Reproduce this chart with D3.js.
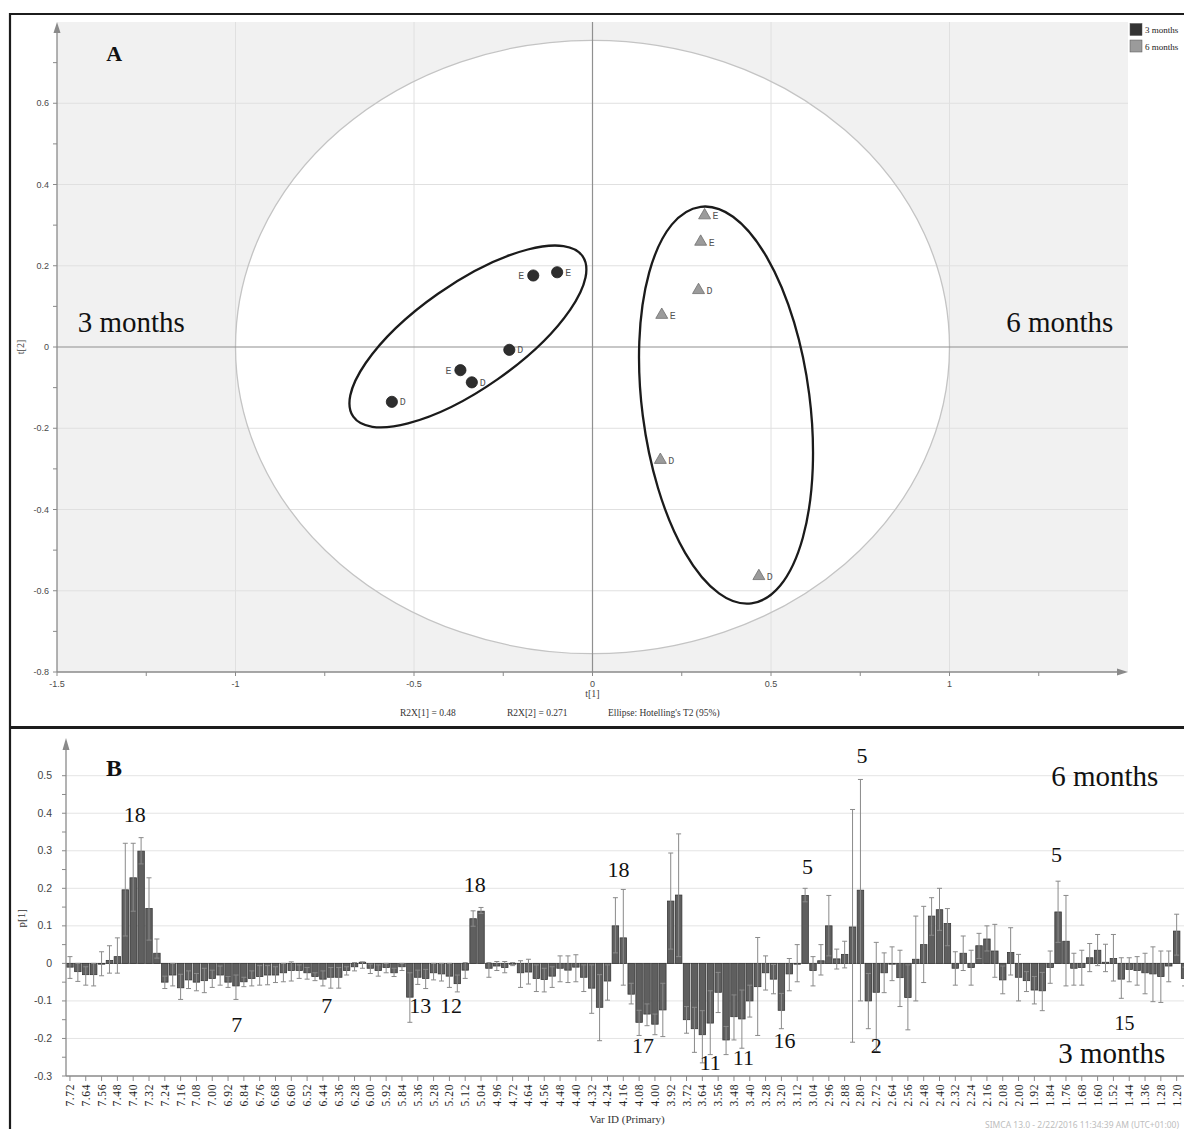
<!DOCTYPE html>
<html>
<head>
<meta charset="utf-8">
<script src="https://cdn.jsdelivr.net/npm/d3@7"></script>
<style>
  html, body { margin: 0; padding: 0; background: #ffffff; overflow: hidden; }
  svg { display: block; }
</style>
</head>
<body>
<svg id="chart" width="1184" height="1129"></svg>
<script>
// ===================== DATA =====================
// Panel A: PCA scores t[1] / t[2]
const groupNames = ["3 months", "6 months"];
const t1_3m  = [-0.099, -0.166, -0.233, -0.370, -0.338, -0.562];
const t2_3m  = [ 0.184,  0.176, -0.007, -0.057, -0.087, -0.135];
const lbl_3m = ["E", "E", "D", "E", "D", "D"];
const t1_6m  = [ 0.314,  0.303,  0.297,  0.194,  0.190,  0.466];
const t2_6m  = [ 0.324,  0.259,  0.140,  0.079, -0.278, -0.564];
const lbl_6m = ["E", "E", "D", "E", "D", "D"];
const hotellingT1 = 1.0;   // semi-axis of Hotelling's T2 (95%) ellipse along t[1]
const hotellingT2 = 0.755; // semi-axis along t[2]
const tickA_x = [-1.5, -1, -0.5, 0, 0.5, 1];
const tickA_y = [-0.8, -0.6, -0.4, -0.2, 0, 0.2, 0.4, 0.6];
const r2xText = ["R2X[1] = 0.48", "R2X[2] = 0.271", "Ellipse: Hotelling's T2 (95%)"];

// Panel B: loadings p[1] per variable (ppm bins) with error bars
const catsB = ["7.72","7.68","7.64","7.60","7.56","7.52","7.48","7.44","7.40","7.36",
 "7.32","7.28","7.24","7.20","7.16","7.12","7.08","7.04","7.00","6.96",
 "6.92","6.88","6.84","6.80","6.76","6.72","6.68","6.64","6.60","6.56",
 "6.52","6.48","6.44","6.40","6.36","6.32","6.28","6.24","6.00","5.96",
 "5.92","5.88","5.84","5.40","5.36","5.32","5.28","5.24","5.20","5.16",
 "5.12","5.08","5.04","5.00","4.96","4.92","4.72","4.68","4.64","4.60",
 "4.56","4.52","4.48","4.44","4.40","4.36","4.32","4.28","4.24","4.20",
 "4.16","4.12","4.08","4.04","4.00","3.96","3.92","3.76","3.72","3.68",
 "3.64","3.60","3.56","3.52","3.48","3.44","3.40","3.32","3.28","3.24",
 "3.20","3.16","3.12","3.08","3.04","3.00","2.96","2.92","2.88","2.84",
 "2.80","2.76","2.72","2.68","2.64","2.60","2.56","2.52","2.48","2.44",
 "2.40","2.36","2.32","2.28","2.24","2.20","2.16","2.12","2.08","2.04",
 "2.00","1.96","1.92","1.88","1.84","1.80","1.76","1.72","1.68","1.64",
 "1.60","1.56","1.52","1.48","1.44","1.40","1.36","1.32","1.28","1.24",
 "1.20","1.16"];
const valsB = [-0.010,-0.022,-0.030,-0.030,-0.002,0.008,0.018,0.196,0.228,0.299,
 0.146,0.027,-0.050,-0.031,-0.065,-0.044,-0.050,-0.046,-0.040,-0.031,
 -0.050,-0.060,-0.049,-0.040,-0.035,-0.031,-0.031,-0.025,-0.019,-0.019,
 -0.025,-0.035,-0.042,-0.037,-0.037,-0.019,-0.009,0.003,-0.013,-0.019,
 -0.011,-0.025,-0.009,-0.090,-0.037,-0.040,-0.025,-0.028,-0.034,-0.054,
 -0.018,0.119,0.139,-0.013,-0.007,-0.011,-0.002,-0.025,-0.023,-0.040,
 -0.043,-0.034,-0.013,-0.018,-0.010,-0.037,-0.066,-0.117,-0.047,0.100,
 0.068,-0.082,-0.157,-0.135,-0.162,-0.124,0.166,0.182,-0.150,-0.174,
 -0.190,-0.159,-0.077,-0.204,-0.142,-0.148,-0.100,-0.062,-0.025,-0.042,
 -0.125,-0.028,0.000,0.181,-0.019,0.007,0.100,0.012,0.024,0.097,
 0.195,-0.100,-0.077,-0.025,0.000,-0.038,-0.091,0.011,0.050,0.126,
 0.143,0.106,-0.013,0.027,-0.011,0.047,0.065,0.033,-0.044,0.029,
 -0.037,-0.046,-0.071,-0.073,-0.011,0.137,0.059,-0.013,-0.011,0.015,
 0.035,0.003,0.013,-0.042,-0.016,-0.019,-0.025,-0.028,-0.035,-0.007,
 0.086,-0.040];
const errLoB = [-0.040,-0.048,-0.058,-0.060,-0.033,-0.026,-0.026,0.073,0.139,0.265,
 0.062,0.014,-0.067,-0.060,-0.096,-0.067,-0.073,-0.078,-0.064,-0.058,
 -0.064,-0.096,-0.062,-0.060,-0.058,-0.057,-0.051,-0.049,-0.047,-0.040,
 -0.042,-0.046,-0.060,-0.066,-0.066,-0.031,-0.020,-0.013,-0.027,-0.034,
 -0.025,-0.035,-0.019,-0.157,-0.056,-0.067,-0.044,-0.047,-0.064,-0.076,
 -0.040,0.099,0.133,-0.037,-0.019,-0.025,-0.006,-0.064,-0.055,-0.075,
 -0.076,-0.064,-0.049,-0.051,-0.049,-0.075,-0.133,-0.206,-0.098,0.028,
 -0.058,-0.108,-0.192,-0.166,-0.190,-0.195,0.038,0.018,-0.186,-0.237,
 -0.265,-0.243,-0.131,-0.243,-0.204,-0.226,-0.143,-0.192,-0.071,-0.081,
 -0.174,-0.073,-0.049,0.164,-0.060,-0.031,0.020,-0.015,-0.012,-0.210,
 -0.100,-0.174,-0.235,-0.078,-0.046,-0.115,-0.177,-0.100,-0.051,0.075,
 0.088,0.047,-0.058,-0.019,-0.058,0.013,0.033,-0.037,-0.081,-0.031,
 -0.100,-0.075,-0.108,-0.126,-0.053,0.056,-0.060,-0.058,-0.058,-0.022,
 -0.006,-0.022,-0.047,-0.093,-0.049,-0.058,-0.081,-0.102,-0.104,-0.049,
 0.022,-0.060];
const errHiB = [0.018,0.000,-0.009,0.000,0.031,0.047,0.068,0.320,0.320,0.335,
 0.228,0.065,-0.034,0.000,-0.029,-0.020,-0.027,-0.013,-0.018,-0.007,
 -0.035,-0.031,-0.037,-0.020,-0.006,-0.006,-0.009,0.000,0.004,-0.004,
 -0.011,-0.025,-0.020,-0.011,-0.011,-0.009,0.002,0.004,-0.002,-0.004,
 0.000,-0.013,0.000,-0.025,-0.018,-0.016,0.000,0.000,0.000,-0.031,
 0.002,0.140,0.149,0.002,0.005,0.005,0.002,0.007,0.011,-0.004,
 -0.013,-0.009,0.020,0.020,0.023,-0.004,-0.004,-0.030,-0.004,0.175,
 0.197,-0.053,-0.125,-0.108,-0.135,-0.053,0.294,0.345,-0.115,-0.117,
 -0.126,-0.073,-0.024,-0.168,-0.084,-0.071,-0.058,0.069,0.020,-0.003,
 -0.080,0.013,0.050,0.200,0.018,0.050,0.181,0.038,0.059,0.410,
 0.490,-0.027,0.056,0.028,0.044,0.035,-0.004,0.126,0.152,0.175,
 0.200,0.146,0.031,0.073,0.035,0.080,0.100,0.104,-0.007,0.095,
 0.024,-0.022,-0.035,-0.024,0.033,0.219,0.181,0.027,0.035,0.053,
 0.077,0.051,0.077,0.015,0.015,0.018,0.027,0.044,0.033,0.033,
 0.131,-0.010];
const tickB_y = [-0.3, -0.2, -0.1, 0, 0.1, 0.2, 0.3, 0.4, 0.5];
const tickB_x = ["7.72","7.64","7.56","7.48","7.40","7.32","7.24","7.16","7.08","7.00",
 "6.92","6.84","6.76","6.68","6.60","6.52","6.44","6.36","6.28","6.00","5.92","5.84",
 "5.36","5.28","5.20","5.12","5.04","4.96","4.72","4.64","4.56","4.48","4.40","4.32",
 "4.24","4.16","4.08","4.00","3.92","3.72","3.64","3.56","3.48","3.40","3.28","3.20",
 "3.12","3.04","2.96","2.88","2.80","2.72","2.64","2.56","2.48","2.40","2.32","2.24",
 "2.16","2.08","2.00","1.92","1.84","1.76","1.68","1.60","1.52","1.44","1.36","1.28","1.20"];
const annotB = ["18","7","7","13","12","18","18","17","11","11","16","5","2","5","5","15"];

// ===================== LAYOUT / STYLE =====================
const svg = d3.select("#chart");
const serif = "'Liberation Serif', 'Times New Roman', serif";
const sans = "'Liberation Sans', Arial, sans-serif";
const axisCol = "#8a8a8a";
const fmt = d => String(d);   // plain hyphen-minus like the original

// ---------- Panel A ----------
const xA = d3.scaleLinear().domain([-1.5, 1.5]).range([57, 1128]);
const yA = d3.scaleLinear().domain([-0.8, 0.8]).range([672, 22]);
const gA = svg.append("g");

gA.append("rect")
  .attr("x", xA(-1.5)).attr("y", yA(0.8))
  .attr("width", xA(1.5) - xA(-1.5)).attr("height", yA(-0.8) - yA(0.8))
  .attr("fill", "#f1f1f1");

gA.append("ellipse")
  .attr("cx", xA(0)).attr("cy", yA(0))
  .attr("rx", xA(hotellingT1) - xA(0)).attr("ry", yA(0) - yA(hotellingT2))
  .attr("fill", "#ffffff");

// grid
const gridAx = [-1, -0.5, 0.5, 1];
const gridAy = [-0.6, -0.4, -0.2, 0.2, 0.4, 0.6];
gA.selectAll(".gx").data(gridAx).join("line")
  .attr("x1", d => xA(d)).attr("x2", d => xA(d))
  .attr("y1", yA(0.8)).attr("y2", yA(-0.8))
  .attr("stroke", "#e0e0e0").attr("stroke-width", 1);
gA.selectAll(".gy").data(gridAy).join("line")
  .attr("x1", xA(-1.5)).attr("x2", xA(1.5))
  .attr("y1", d => yA(d)).attr("y2", d => yA(d))
  .attr("stroke", "#e0e0e0").attr("stroke-width", 1);

// Hotelling outline
gA.append("ellipse")
  .attr("cx", xA(0)).attr("cy", yA(0))
  .attr("rx", xA(hotellingT1) - xA(0)).attr("ry", yA(0) - yA(hotellingT2))
  .attr("fill", "none").attr("stroke", "#c4c4c4").attr("stroke-width", 1.3);

// zero lines
gA.append("line").attr("x1", xA(0)).attr("x2", xA(0)).attr("y1", yA(0.8)).attr("y2", yA(-0.8))
  .attr("stroke", "#909090").attr("stroke-width", 1.2);
gA.append("line").attr("x1", xA(-1.5)).attr("x2", xA(1.5)).attr("y1", yA(0)).attr("y2", yA(0))
  .attr("stroke", "#909090").attr("stroke-width", 1.2);

// axes with arrows
gA.append("line").attr("x1", xA(-1.5)).attr("x2", xA(-1.5)).attr("y1", yA(-0.8)).attr("y2", yA(0.8) + 6)
  .attr("stroke", axisCol).attr("stroke-width", 1.3);
gA.append("path")
  .attr("d", `M${xA(-1.5)},${yA(0.8)} l-3.5,11 l7,0 z`).attr("fill", axisCol);
gA.append("line").attr("x1", xA(-1.5)).attr("x2", xA(1.5) - 6).attr("y1", yA(-0.8)).attr("y2", yA(-0.8))
  .attr("stroke", axisCol).attr("stroke-width", 1.3);
gA.append("path")
  .attr("d", `M${xA(1.5)},${yA(-0.8)} l-11,-3.5 l0,7 z`).attr("fill", axisCol);

// ticks
const minorAy = d3.range(0, 16).map(k => -0.8 + k * 0.1);
gA.selectAll(".tya").data(minorAy).join("line")
  .attr("x1", xA(-1.5) - 4).attr("x2", xA(-1.5))
  .attr("y1", d => yA(d)).attr("y2", d => yA(d))
  .attr("stroke", axisCol);
const minorAx = d3.range(0, 12).map(k => -1.5 + k * 0.25);
gA.selectAll(".txa").data(minorAx).join("line")
  .attr("x1", d => xA(d)).attr("x2", d => xA(d))
  .attr("y1", yA(-0.8)).attr("y2", yA(-0.8) + 4)
  .attr("stroke", axisCol);
gA.selectAll(".lya").data(tickA_y).join("text")
  .attr("x", xA(-1.5) - 8).attr("y", d => yA(d) + 3)
  .attr("text-anchor", "end").attr("font-family", sans).attr("font-size", 9).attr("fill", "#4a4a4a")
  .text(fmt);
gA.selectAll(".lxa").data(tickA_x).join("text")
  .attr("x", d => xA(d)).attr("y", yA(-0.8) + 15)
  .attr("text-anchor", "middle").attr("font-family", sans).attr("font-size", 9).attr("fill", "#4a4a4a")
  .text(fmt);

gA.append("text").attr("transform", `translate(24,${yA(0)}) rotate(-90)`)
  .attr("text-anchor", "middle").attr("font-family", serif).attr("font-size", 10).attr("fill", "#444").text("t[2]");
gA.append("text").attr("x", xA(0)).attr("y", yA(-0.8) + 25)
  .attr("text-anchor", "middle").attr("font-family", serif).attr("font-size", 10).attr("fill", "#444").text("t[1]");
const r2xX = [400, 507, 608];
gA.selectAll(".r2x").data(r2xText).join("text")
  .attr("x", (d, i) => r2xX[i]).attr("y", 716)
  .attr("font-family", serif).attr("font-size", 9.5).attr("fill", "#333").text(d => d);

// annotation ellipses (drawn groupings) in data units
const groupEllipses = [
  { cx: -0.349, cy: 0.026, rx: 0.392, ry: 0.146, rot: -35 },
  { cx: 0.374, cy: -0.143, rx: 0.235, ry: 0.560, rot: -7.3 }
];
const pxPerUnit = xA(1) - xA(0);
gA.selectAll(".ge").data(groupEllipses).join("ellipse")
  .attr("transform", d => `translate(${xA(d.cx)},${yA(d.cy)}) rotate(${d.rot})`)
  .attr("rx", d => d.rx * pxPerUnit).attr("ry", d => d.ry * pxPerUnit)
  .attr("fill", "none").attr("stroke", "#1b1b1b").attr("stroke-width", 2.3);

// points
const pts3 = t1_3m.map((v, i) => ({ t1: v, t2: t2_3m[i], lbl: lbl_3m[i] }));
const pts6 = t1_6m.map((v, i) => ({ t1: v, t2: t2_6m[i], lbl: lbl_6m[i] }));
const labelLeft3 = [false, true, false, true, false, false];
gA.selectAll(".p3").data(pts3).join("circle")
  .attr("cx", d => xA(d.t1)).attr("cy", d => yA(d.t2)).attr("r", 5.6)
  .attr("fill", "#2e2e2e").attr("stroke", "#1e1e1e").attr("stroke-width", 0.8);
gA.selectAll(".pl3").data(pts3).join("text")
  .attr("x", (d, i) => labelLeft3[i] ? xA(d.t1) - 9 : xA(d.t1) + 8)
  .attr("y", d => yA(d.t2) + 3.5)
  .attr("text-anchor", (d, i) => labelLeft3[i] ? "end" : "start")
  .attr("font-family", "'Liberation Mono', monospace").attr("font-size", 10).attr("fill", "#555")
  .text(d => d.lbl);
const tri = d3.symbol().type(d3.symbolTriangle).size(62);
gA.selectAll(".p6").data(pts6).join("path")
  .attr("transform", d => `translate(${xA(d.t1)},${yA(d.t2)})`)
  .attr("d", tri).attr("fill", "#9b9b9b").attr("stroke", "#6e6e6e").attr("stroke-width", 0.8);
gA.selectAll(".pl6").data(pts6).join("text")
  .attr("x", d => xA(d.t1) + 8).attr("y", d => yA(d.t2) + 4)
  .attr("font-family", "'Liberation Mono', monospace").attr("font-size", 10).attr("fill", "#555")
  .text(d => d.lbl);

// panel A big labels
gA.append("text").attr("x", xA(-1.362)).attr("y", yA(0.704))
  .attr("font-family", serif).attr("font-weight", "bold").attr("font-size", 22).attr("fill", "#111").text("A");
gA.append("text").attr("x", xA(-1.442)).attr("y", yA(0.037))
  .attr("font-family", serif).attr("font-size", 29).attr("fill", "#111").text(groupNames[0]);
gA.append("text").attr("x", xA(1.459)).attr("y", yA(0.037)).attr("text-anchor", "end")
  .attr("font-family", serif).attr("font-size", 29).attr("fill", "#111").text(groupNames[1]);

// legend
const legCols = ["#333333", "#9b9b9b"];
const legG = gA.append("g").attr("transform", "translate(1130,23.5)");
legG.selectAll("rect").data(groupNames).join("rect")
  .attr("x", 0).attr("y", (d, i) => i * 16.5).attr("width", 12).attr("height", 12)
  .attr("fill", (d, i) => legCols[i]).attr("stroke", "#555").attr("stroke-width", 0.5);
legG.selectAll("text").data(groupNames).join("text")
  .attr("x", 15).attr("y", (d, i) => i * 16.5 + 9.5)
  .attr("font-family", serif).attr("font-size", 9).attr("fill", "#222").text(d => d);

// ---------- Panel B ----------
const xB = d3.scaleBand().domain(catsB)
  .range([66, 66 + 7.905 * catsB.length]).paddingInner(0.18).paddingOuter(0.09);
const yB = d3.scaleLinear().domain([-0.3, 0.5]).range([1076, 775.7]);
const idxB = d3.scaleLinear().domain([0, catsB.length - 1])
  .range([xB(catsB[0]) + xB.bandwidth() / 2, xB(catsB[catsB.length - 1]) + xB.bandwidth() / 2]);
const gB = svg.append("g");
const xBend = 1200;

// grid
gB.selectAll(".gyb").data(tickB_y.filter(v => v !== 0 && v !== -0.3)).join("line")
  .attr("x1", xB.range()[0]).attr("x2", xBend)
  .attr("y1", d => yB(d)).attr("y2", d => yB(d))
  .attr("stroke", "#e4e4e4").attr("stroke-width", 1);
// zero line
gB.append("line").attr("x1", xB.range()[0]).attr("x2", xBend).attr("y1", yB(0)).attr("y2", yB(0))
  .attr("stroke", "#8c8c8c").attr("stroke-width", 1);

// bars
const barData = catsB.map((c, i) => ({ c, v: valsB[i], lo: errLoB[i], hi: errHiB[i] }));
gB.selectAll(".bar").data(barData).join("rect")
  .attr("x", d => xB(d.c)).attr("width", xB.bandwidth())
  .attr("y", d => yB(Math.max(0, d.v)))
  .attr("height", d => Math.max(0.8, Math.abs(yB(d.v) - yB(0))))
  .attr("fill", "#5f5f5f").attr("stroke", "#383838").attr("stroke-width", 0.8);

// error bars
const cx = d => xB(d.c) + xB.bandwidth() / 2;
const eb = gB.append("g").attr("stroke", "#8a8a8a").attr("stroke-width", 1);
eb.selectAll(".ev").data(barData).join("line")
  .attr("x1", cx).attr("x2", cx).attr("y1", d => yB(d.lo)).attr("y2", d => yB(d.hi));
eb.selectAll(".ecl").data(barData).join("line")
  .attr("x1", d => cx(d) - 2.5).attr("x2", d => cx(d) + 2.5)
  .attr("y1", d => yB(d.lo)).attr("y2", d => yB(d.lo));
eb.selectAll(".ech").data(barData).join("line")
  .attr("x1", d => cx(d) - 2.5).attr("x2", d => cx(d) + 2.5)
  .attr("y1", d => yB(d.hi)).attr("y2", d => yB(d.hi));

// axes
const x0B = xB.range()[0];
gB.append("line").attr("x1", x0B).attr("x2", x0B).attr("y1", yB(-0.3)).attr("y2", 744)
  .attr("stroke", axisCol).attr("stroke-width", 1.3);
gB.append("path").attr("d", `M${x0B},738 l-3.5,12 l7,0 z`).attr("fill", axisCol);
gB.append("line").attr("x1", x0B).attr("x2", xBend).attr("y1", yB(-0.3)).attr("y2", yB(-0.3))
  .attr("stroke", axisCol).attr("stroke-width", 1.3);
const minorBy = d3.range(0, 17).map(k => -0.3 + k * 0.05);
gB.selectAll(".tyb").data(minorBy).join("line")
  .attr("x1", x0B - 4).attr("x2", x0B).attr("y1", d => yB(d)).attr("y2", d => yB(d))
  .attr("stroke", axisCol);
gB.selectAll(".lyb").data(tickB_y).join("text")
  .attr("x", x0B - 14).attr("y", d => yB(d) + 3.5)
  .attr("text-anchor", "end").attr("font-family", sans).attr("font-size", 10.5).attr("fill", "#444")
  .text(fmt);
gB.selectAll(".txb").data(tickB_x).join("line")
  .attr("x1", d => xB(d) + xB.bandwidth() / 2).attr("x2", d => xB(d) + xB.bandwidth() / 2)
  .attr("y1", yB(-0.3)).attr("y2", yB(-0.3) + 5).attr("stroke", axisCol);
gB.selectAll(".lxb").data(tickB_x).join("text")
  .attr("transform", d => `translate(${xB(d) + xB.bandwidth() / 2 + 4},${yB(-0.3) + 8}) rotate(-90)`)
  .attr("text-anchor", "end").attr("font-family", serif).attr("font-size", 11.5)
  .attr("letter-spacing", 0.6).attr("fill", "#222").text(d => d);

gB.append("text").attr("transform", `translate(25,${yB(0.12)}) rotate(-90)`)
  .attr("text-anchor", "middle").attr("font-family", serif).attr("font-size", 11).attr("fill", "#333").text("p[1]");
gB.append("text").attr("x", 627).attr("y", 1123).attr("text-anchor", "middle")
  .attr("font-family", serif).attr("font-size", 11).attr("fill", "#333").text("Var ID (Primary)");
gB.append("text").attr("x", 985).attr("y", 1128)
  .attr("font-family", "'Noto Sans', sans-serif").attr("font-size", 8.5).attr("fill", "#bdbdbd")
  .text("SIMCA 13.0 - 2/22/2016 11:34:39 AM (UTC+01:00)");

// numeric annotations: [category index, p[1] value at baseline]
const annotPos = [[8.2,0.376],[21.1,-0.183],[32.5,-0.132],[44.3,-0.132],[48.2,-0.132],[51.2,0.19],
  [69.4,0.23],[72.5,-0.239],[81.0,-0.284],[85.2,-0.271],[90.4,-0.226],[93.3,0.239],[102.0,-0.239],
  [100.2,0.535],[124.8,0.27],[133.4,-0.177]];
gB.selectAll(".ann").data(annotB).join("text")
  .attr("x", (d, i) => idxB(annotPos[i][0])).attr("y", (d, i) => yB(annotPos[i][1]))
  .attr("text-anchor", "middle").attr("font-family", serif)
  .attr("font-size", (d, i) => i === annotB.length - 1 ? 20 : 22).attr("fill", "#111").text(d => d);

gB.append("text").attr("x", idxB(4.55)).attr("y", yB(0.499))
  .attr("font-family", serif).attr("font-weight", "bold").attr("font-size", 24).attr("fill", "#111").text("B");
gB.append("text").attr("x", idxB(130.9)).attr("y", yB(0.472)).attr("text-anchor", "middle")
  .attr("font-family", serif).attr("font-size", 29).attr("fill", "#111").text(groupNames[1]);
gB.append("text").attr("x", idxB(131.8)).attr("y", yB(-0.265)).attr("text-anchor", "middle")
  .attr("font-family", serif).attr("font-size", 29).attr("fill", "#111").text(groupNames[0]);

// ---------- Frame ----------
const fr = svg.append("g").attr("stroke", "#1c1c1c").attr("fill", "none");
fr.append("line").attr("x1", 10).attr("x2", 1184).attr("y1", 14).attr("y2", 14).attr("stroke-width", 2.2);
fr.append("line").attr("x1", 10).attr("x2", 10).attr("y1", 13).attr("y2", 1129).attr("stroke-width", 2.2);
fr.append("line").attr("x1", 10).attr("x2", 1184).attr("y1", 727.5).attr("y2", 727.5).attr("stroke-width", 2.8);
</script>
</body>
</html>
